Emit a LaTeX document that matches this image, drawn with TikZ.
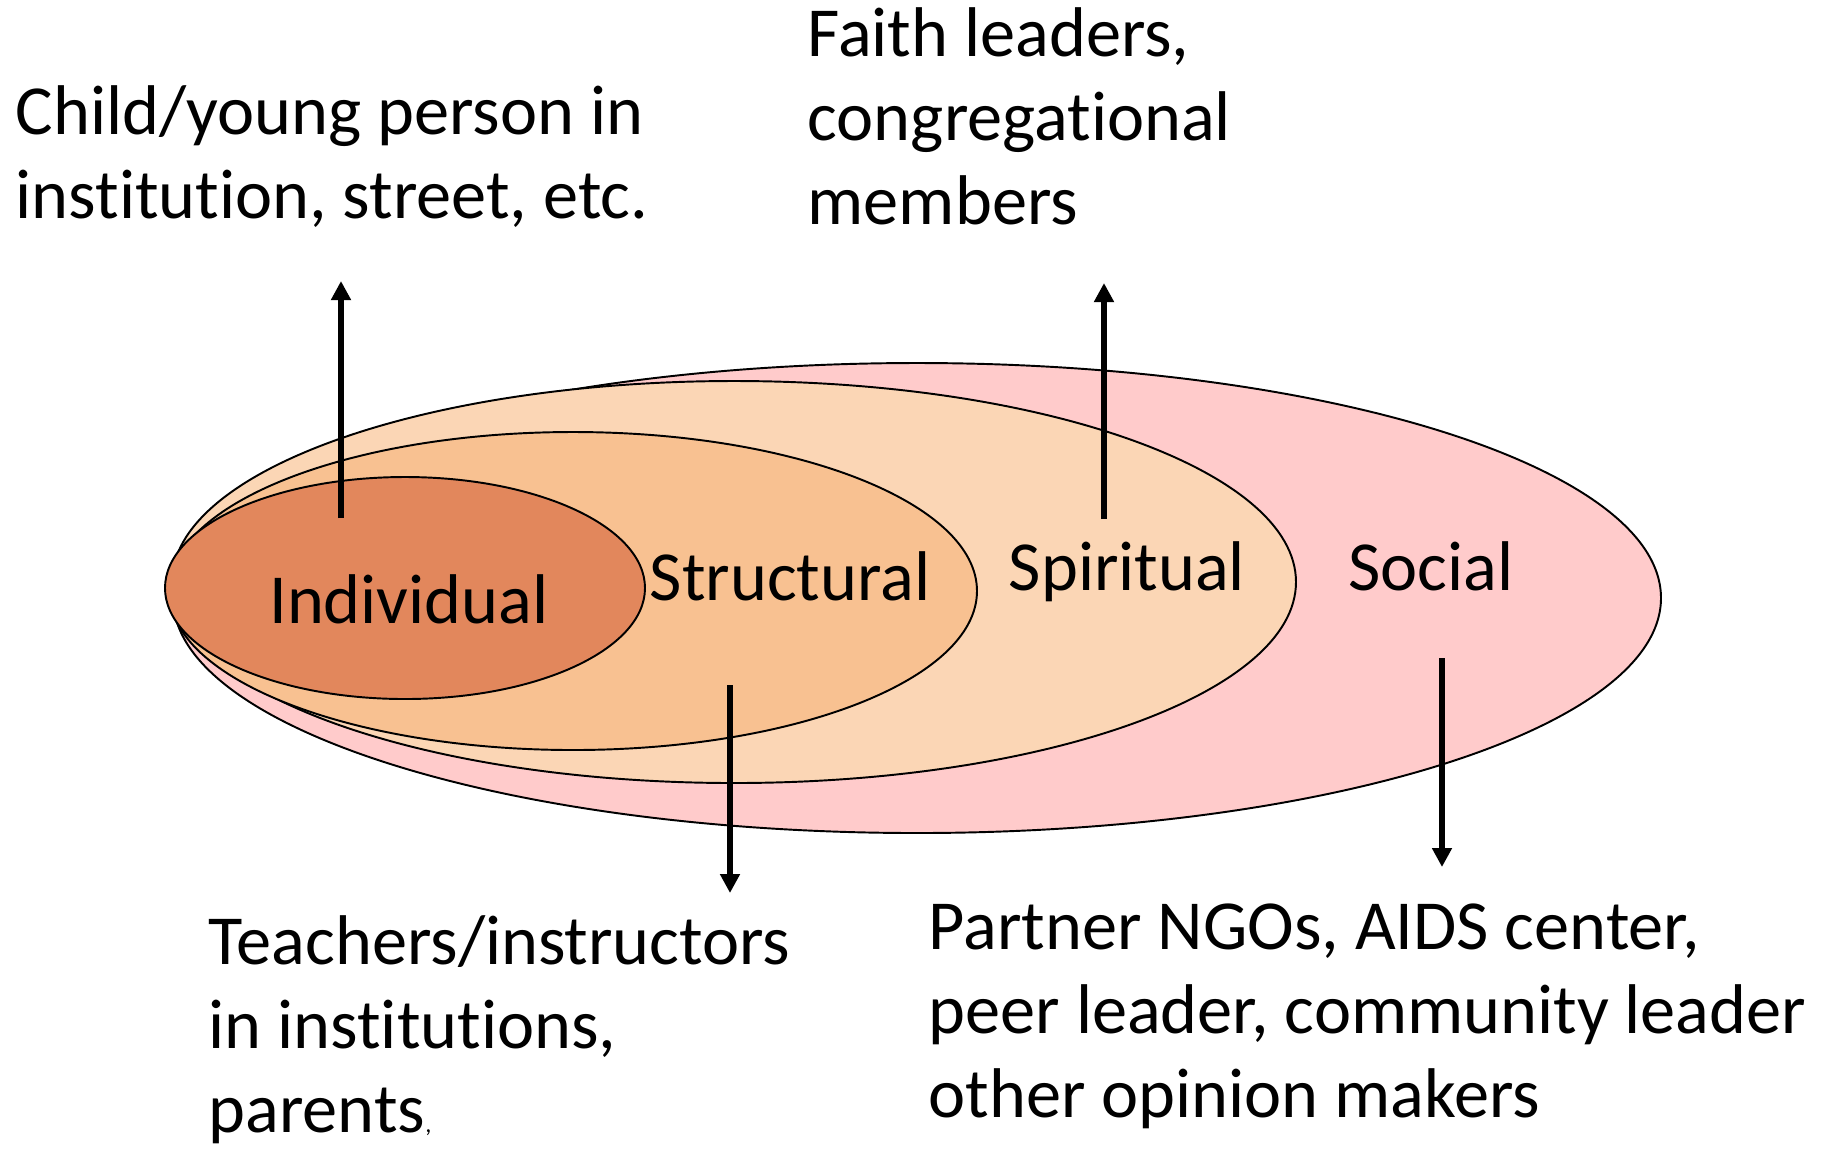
\documentclass[tikz,border=0pt]{standalone}
\usepackage{fontspec}
\setmainfont[Ligatures = NoCommon]{Carlito}
\usepackage{tikz}
\usetikzlibrary{arrows.meta}

\definecolor{socialc}{RGB}{255,203,203}
\definecolor{spiritc}{RGB}{251,214,181}
\definecolor{structc}{RGB}{248,193,145}
\definecolor{indivc}{RGB}{226,135,92}

\begin{document}
\begin{tikzpicture}[x = 0.01cm, y = -0.01cm,
  zone/.style = {draw = black, line width = 0.55pt},
  lbl/.style = {inner sep = 0pt, font = \fontsize{20}{23.8}\selectfont},
  note/.style = {lbl, align = left, anchor = base west},
  conn/.style = {line width = 1.8pt, -{Triangle[length = 0.19cm, width = 0.19cm]}}]
\useasboundingbox (0,0) rectangle (1835,1150);
% the four nested levels
\draw[zone, fill = socialc] (917,598) ellipse [x radius = 744, y radius = 235];
\draw[zone, fill = spiritc] (734,582) ellipse [x radius = 562, y radius = 201];
\draw[zone, fill = structc] (573,591) ellipse [x radius = 404, y radius = 159];
\draw[zone, fill = indivc] (405,588) ellipse [x radius = 240, y radius = 111];
\node[lbl, anchor = base] (indiv) at (409,623) {Individual};
\node[lbl, anchor = base] (struct) at (790,600) {Structural};
\node[lbl, anchor = base] (spirit) at (1127,590) {Spiritual};
\node[lbl, anchor = base] (social) at (1431,590) {Social};
% who is reached at each level (base = last line)
\node[note] (child) at (15,218) {Child/young person in\\institution, street, etc.};
\node[note] (faith) at (807,224) {Faith leaders,\\congregational\\members};
\node[note] (teach) at (208,1132) {Teachers/instructors\\in institutions,\\parents{\fontsize{7}{7}\selectfont,}};
\node[note] (partner) at (928,1117) {Partner NGOs, AIDS center,\\peer leader, community leader\\other opinion makers};
\coordinate (a1) at (341,518);
\coordinate (a1e) at (341,281);
\coordinate (a2) at (1104,519);
\coordinate (a2e) at (1104,283);
\coordinate (a3) at (730,685);
\coordinate (a3e) at (730,893);
\coordinate (a4) at (1442,658);
\coordinate (a4e) at (1442,867);
\foreach \s/\e in {a1/a1e, a2/a2e, a3/a3e, a4/a4e}
  \draw[conn] (\s) -- (\e);
\end{tikzpicture}
\end{document}
